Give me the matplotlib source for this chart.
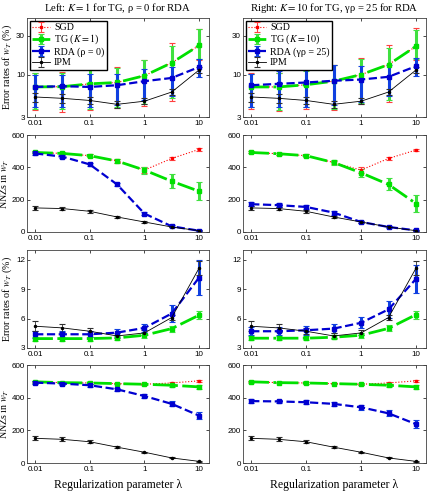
import numpy as np
import matplotlib
matplotlib.use("Agg")
import matplotlib.pyplot as plt
from matplotlib.ticker import FixedLocator, FixedFormatter, NullLocator

plt.rcParams['font.family'] = ['Liberation Sans', 'DejaVu Sans']
plt.rcParams['mathtext.fontset'] = 'stix'
SERIF = 'Liberation Serif'

lam = [0.01, 0.0316, 0.1, 0.316, 1, 3.16, 10]
lam_ticks = [0.01, 0.1, 1, 10]
lam_labels = ['0.01', '0.1', '1', '10']

# ---- row 1: error rates (log scale), values + lower/upper bar ends ----
ipm_err1 = [5.3, 5.1, 4.8, 4.3, 4.7, 6.1, 11.4]
ipm_err1_lo = [4.6, 4.5, 4.3, 3.9, 4.3, 5.6, 10.4]
ipm_err1_hi = [6.0, 5.7, 5.3, 4.7, 5.1, 6.6, 12.4]

sgd_err1_L = [7.05, 7.1, 7.7, 8.0, 9.7, 14.0, 22.9]
sgd_err1_L_lo = [3.7, 3.5, 3.7, 3.9, 4.1, 4.7, 15.0]
sgd_err1_L_hi = [10.6, 10.7, 11.9, 12.3, 15.2, 24.6, 37.0]
tg_err1_L = [7.05, 7.1, 7.7, 8.0, 9.7, 14.0, 22.9]
tg_err1_L_lo = [3.8, 3.8, 3.8, 4.0, 4.4, 5.2, 15.7]
tg_err1_L_hi = [10.5, 10.5, 11.8, 12.2, 15.0, 22.4, 36.7]
rda_err1_L = [7.05, 7.2, 7.05, 7.4, 8.3, 9.1, 12.4]
rda_err1_L_lo = [4.0, 4.0, 4.0, 4.2, 4.8, 5.4, 9.4]
rda_err1_L_hi = [10.0, 10.0, 10.2, 10.2, 11.8, 12.5, 15.7]

sgd_err1_R = [7.05, 7.05, 7.5, 8.3, 10.0, 13.3, 22.4]
sgd_err1_R_lo = [3.8, 3.6, 3.8, 3.7, 4.3, 4.6, 15.0]
sgd_err1_R_hi = [10.4, 10.6, 11.5, 13.3, 16.0, 23.5, 37.5]
tg_err1_R = [7.05, 7.05, 7.5, 8.3, 10.0, 13.3, 22.4]
tg_err1_R_lo = [4.0, 3.7, 4.0, 3.8, 4.5, 4.9, 15.8]
tg_err1_R_hi = [10.3, 10.4, 11.2, 13.1, 15.7, 21.6, 36.0]
rda_err1_R = [7.4, 7.7, 8.0, 8.4, 8.7, 9.4, 12.7]
rda_err1_R_lo = [4.0, 4.0, 4.0, 4.2, 4.6, 5.4, 9.5]
rda_err1_R_hi = [10.2, 11.2, 11.9, 13.1, 12.8, 13.3, 16.2]

# ---- row 2: NNZs ----
ipm_nnz2 = [149, 145, 128, 93, 62, 31, 8]
ipm_nnz2_e = [10, 10, 10, 6, 4, 3, 2]
sgd_nnz2_L = [492, 486, 472, 439, 383, 455, 511]
sgd_nnz2_L_e = [6, 6, 8, 10, 20, 12, 8]
tg_nnz2_L = [492, 486, 472, 439, 383, 314, 252]
tg_nnz2_L_e = [6, 6, 8, 10, 22, 43, 55]
rda_nnz2_L = [486, 466, 418, 294, 114, 35, 8]
rda_nnz2_L_e = [8, 8, 8, 10, 10, 6, 3]
sgd_nnz2_R = [492, 484, 472, 430, 383, 455, 507]
sgd_nnz2_R_e = [6, 6, 8, 10, 20, 12, 8]
tg_nnz2_R = [492, 484, 472, 430, 366, 294, 176]
tg_nnz2_R_e = [6, 6, 8, 14, 24, 37, 50]
rda_nnz2_R = [172, 166, 155, 120, 62, 31, 10]
rda_nnz2_R_e = [12, 12, 12, 12, 6, 4, 2]

# ---- row 3: error rates (linear) ----
ipm_err3 = [5.22, 5.05, 4.71, 4.23, 4.54, 6.11, 11.15]
ipm_err3_e = [0.5, 0.45, 0.3, 0.25, 0.25, 0.3, 0.7]
tg_err3_L = [3.96, 3.96, 3.96, 4.03, 4.30, 4.98, 6.35]
tg_err3_L_e = [0.2, 0.2, 0.2, 0.2, 0.25, 0.3, 0.4]
rda_err3_L = [4.40, 4.40, 4.40, 4.57, 5.05, 6.52, 10.18]
rda_err3_L_e = [0.35, 0.35, 0.3, 0.4, 0.45, 0.9, 1.8]
tg_err3_R = [4.0, 4.0, 4.0, 4.1, 4.3, 5.0, 6.4]
tg_err3_R_e = [0.2, 0.2, 0.2, 0.2, 0.25, 0.3, 0.4]
rda_err3_R = [4.71, 4.71, 4.81, 4.98, 5.57, 6.94, 10.05]
rda_err3_R_e = [0.4, 0.4, 0.45, 0.5, 0.55, 0.9, 1.4]

# ---- row 4: NNZs ----
ipm_nnz4 = [151, 145, 130, 97, 66, 31, 10]
ipm_nnz4_e = [12, 12, 10, 6, 4, 3, 2]
sgd_nnz4 = [497, 492, 490, 486, 482, 490, 503]
sgd_nnz4_e = [4, 4, 4, 4, 4, 6, 6]
tg_nnz4_L = [497, 492, 490, 486, 482, 476, 466]
tg_nnz4_L_e = [5, 5, 5, 5, 6, 8, 10]
rda_nnz4_L = [492, 486, 476, 451, 410, 362, 290]
rda_nnz4_L_e = [8, 8, 10, 10, 10, 15, 20]
tg_nnz4_R = [497, 492, 490, 486, 482, 476, 466]
tg_nnz4_R_e = [5, 5, 5, 5, 6, 8, 10]
rda_nnz4_R = [379, 377, 372, 362, 341, 304, 238]
rda_nnz4_R_e = [10, 10, 12, 12, 15, 18, 25]

GREEN = '#00e000'
BLUE = '#0000d0'

STY = {
    'sgd': dict(color='red', ls=':', lw=0.8, marker='s', ms=1.8, elw=0.8, ecol='#ff4040'),
    'tg': dict(color=GREEN, ls='-.', lw=2.0, marker='s', ms=2.6, elw=2.2, ecol='#40e040'),
    'rda': dict(color=BLUE, ls='--', lw=1.6, marker='s', ms=2.6, elw=2.2, ecol='#1040e0'),
    'ipm': dict(color='black', ls='-', lw=0.6, marker='.', ms=3, elw=0.6, ecol='#303030'),
}


def draw(ax, key, y, yerr, label=None):
    s = STY[key]
    ax.errorbar(lam, y, yerr=yerr, color=s['color'], ls=s['ls'], lw=s['lw'],
                marker=s['marker'], ms=s['ms'], mec=s['color'], mfc=s['color'],
                ecolor=s['ecol'], elinewidth=s['elw'], capsize=2, capthick=0.8,
                label=label)


def bounds(y, lo, hi):
    y = np.array(y)
    return [y - np.array(lo), np.array(hi) - y]


W, H = 429, 495
fig = plt.figure(figsize=(W / 100, H / 100), dpi=100)

cols = [27, 243]
widths = [182, 183]
rows = [(18, 117), (135, 232), (250, 348), (365, 463)]

axes = []
for r, (t, b) in enumerate(rows):
    line = []
    for c in range(2):
        ax = fig.add_axes([cols[c] / W, 1 - b / H, widths[c] / W, (b - t) / H])
        line.append(ax)
    axes.append(line)

# row 1
for c, side in enumerate(['L', 'R']):
    ax = axes[0][c]
    if side == 'L':
        draw(ax, 'sgd', sgd_err1_L, bounds(sgd_err1_L, sgd_err1_L_lo, sgd_err1_L_hi), 'SGD')
        draw(ax, 'tg', tg_err1_L, bounds(tg_err1_L, tg_err1_L_lo, tg_err1_L_hi), 'TG ($K = 1$)')
        draw(ax, 'rda', rda_err1_L, bounds(rda_err1_L, rda_err1_L_lo, rda_err1_L_hi), 'RDA (ρ = 0)')
    else:
        draw(ax, 'sgd', sgd_err1_R, bounds(sgd_err1_R, sgd_err1_R_lo, sgd_err1_R_hi), 'SGD')
        draw(ax, 'tg', tg_err1_R, bounds(tg_err1_R, tg_err1_R_lo, tg_err1_R_hi), 'TG ($K = 10$)')
        draw(ax, 'rda', rda_err1_R, bounds(rda_err1_R, rda_err1_R_lo, rda_err1_R_hi), 'RDA (γρ = 25)')
    draw(ax, 'ipm', ipm_err1, bounds(ipm_err1, ipm_err1_lo, ipm_err1_hi), 'IPM')
    ax.set_yscale('log')
    ax.set_ylim(3, 50)
    ax.yaxis.set_major_locator(FixedLocator([3, 10, 30]))
    ax.yaxis.set_major_formatter(FixedFormatter(['3', '10', '30']))
    ax.yaxis.set_minor_locator(NullLocator())
    ax.legend(loc='upper left', prop={'family': SERIF, 'size': 7.2}, fancybox=False,
              edgecolor='black', framealpha=1, handlelength=1.8, labelspacing=0.1,
              borderpad=0.25, borderaxespad=0.25, handletextpad=0.4)

# row 2
for c, side in enumerate(['L', 'R']):
    ax = axes[1][c]
    if side == 'L':
        draw(ax, 'sgd', sgd_nnz2_L, sgd_nnz2_L_e)
        draw(ax, 'tg', tg_nnz2_L, tg_nnz2_L_e)
        draw(ax, 'rda', rda_nnz2_L, rda_nnz2_L_e)
    else:
        draw(ax, 'sgd', sgd_nnz2_R, sgd_nnz2_R_e)
        draw(ax, 'tg', tg_nnz2_R, tg_nnz2_R_e)
        draw(ax, 'rda', rda_nnz2_R, rda_nnz2_R_e)
    draw(ax, 'ipm', ipm_nnz2, ipm_nnz2_e)
    ax.set_ylim(0, 600)
    ax.set_yticks([0, 200, 400, 600])

# row 3
for c, side in enumerate(['L', 'R']):
    ax = axes[2][c]
    if side == 'L':
        draw(ax, 'tg', tg_err3_L, tg_err3_L_e)
        draw(ax, 'rda', rda_err3_L, rda_err3_L_e)
    else:
        draw(ax, 'tg', tg_err3_R, tg_err3_R_e)
        draw(ax, 'rda', rda_err3_R, rda_err3_R_e)
    draw(ax, 'ipm', ipm_err3, ipm_err3_e)
    ax.set_ylim(3, 13)
    ax.set_yticks([3, 6, 9, 12])

# row 4
for c, side in enumerate(['L', 'R']):
    ax = axes[3][c]
    draw(ax, 'sgd', sgd_nnz4, sgd_nnz4_e)
    if side == 'L':
        draw(ax, 'tg', tg_nnz4_L, tg_nnz4_L_e)
        draw(ax, 'rda', rda_nnz4_L, rda_nnz4_L_e)
    else:
        draw(ax, 'tg', tg_nnz4_R, tg_nnz4_R_e)
        draw(ax, 'rda', rda_nnz4_R, rda_nnz4_R_e)
    draw(ax, 'ipm', ipm_nnz4, ipm_nnz4_e)
    ax.set_ylim(0, 600)
    ax.set_yticks([0, 200, 400, 600])
    ax.set_xlabel('Regularization parameter λ', family=SERIF, fontsize=8.5, labelpad=4)

for line in axes:
    for ax in line:
        ax.set_xscale('log')
        ax.set_xlim(0.0071, 15.2)
        ax.xaxis.set_major_locator(FixedLocator(lam_ticks))
        ax.xaxis.set_major_formatter(FixedFormatter(lam_labels))
        ax.xaxis.set_minor_locator(NullLocator())
        ax.tick_params(direction='in', top=True, right=True, labelsize=5.8,
                       length=2.5, width=0.5, pad=2.5)
        ax.tick_params(axis='y', pad=1.5)
        for sp in ax.spines.values():
            sp.set_linewidth(0.6)
            sp.set_color('#404040')

ylab = ['Error rates of $w_T$ (%)', 'NNZs in $w_T$', 'Error rates of $w_T$ (%)', 'NNZs in $w_T$']
ylab_x = [-13.5, -15.5, -13.5, -15.5]
for r in range(4):
    ax = axes[r][0]
    ax.set_ylabel(ylab[r], family=SERIF, fontsize=7.2)
    ax.yaxis.set_label_coords(ylab_x[r] / 182, 0.5)

axes[0][0].set_title('Left: $K = 1$ for TG, ρ = 0 for RDA', family=SERIF, fontsize=7.7, pad=5)
axes[0][1].set_title('Right: $K = 10$ for TG, γρ = 25 for RDA', family=SERIF, fontsize=7.7, pad=5)

fig.savefig('out.png', dpi=100)
